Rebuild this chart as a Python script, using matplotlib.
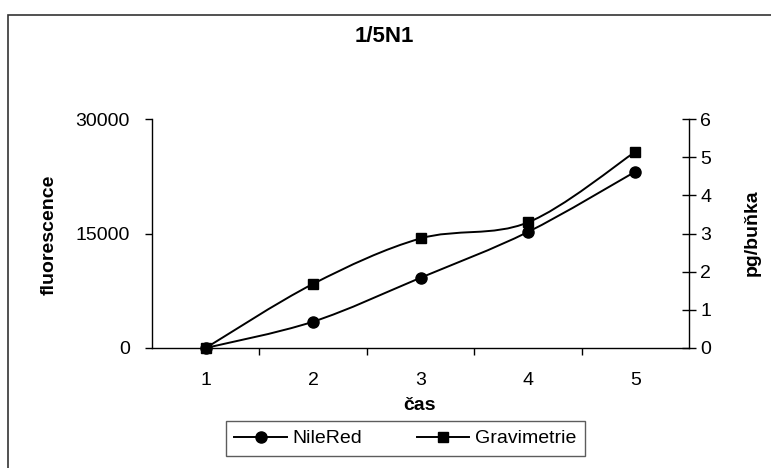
import matplotlib
matplotlib.use("Agg")
import matplotlib.pyplot as plt
import numpy as np
from matplotlib.path import Path
from matplotlib.patches import PathPatch, Rectangle
from matplotlib.lines import Line2D

plt.rcParams['font.family'] = ['Liberation Sans', 'DejaVu Sans']

categories = ["1", "2", "3", "4", "5"]
nilered = [0, 3450, 9200, 15200, 23100]
gravimetrie = [0, 1.68, 2.87, 3.29, 5.14]
left_ticks = [0, 15000, 30000]
right_ticks = [0, 1, 2, 3, 4, 5, 6]

W, H = 771, 468
fig = plt.figure(figsize=(W / 100, H / 100), dpi=100)

# outer chart frame (left & top edges visible)
fig.patches.append(Rectangle((8 / W, -0.1), 1.2, 1 - 15 / H + 0.1, transform=fig.transFigure,
                             fill=False, edgecolor='#333333', linewidth=1.2))

ax = fig.add_axes([152 / W, 1 - 348 / H, (689 - 152) / W, (348 - 119) / H])
ax2 = ax.twinx()

x = np.arange(1, len(categories) + 1)


def smooth_path(xs, ys):
    pts = np.column_stack([xs, ys]).astype(float)
    n = len(pts)
    verts = [pts[0]]
    codes = [Path.MOVETO]
    for i in range(n - 1):
        p0 = pts[max(i - 1, 0)]
        p1 = pts[i]
        p2 = pts[i + 1]
        p3 = pts[min(i + 2, n - 1)]
        c1 = p1 + (p2 - p0) / 6
        c2 = p2 - (p3 - p1) / 6
        verts += [c1, c2, p2]
        codes += [Path.CURVE4] * 3
    return Path(verts, codes)


ax.add_patch(PathPatch(smooth_path(x, nilered), fill=False, edgecolor='black', linewidth=1.4, zorder=3))
ax.plot(x, nilered, linestyle='none', marker='o', markersize=8, color='black', zorder=4, clip_on=False)
ax2.add_patch(PathPatch(smooth_path(x, gravimetrie), fill=False, edgecolor='black', linewidth=1.4, zorder=3))
ax2.plot(x, gravimetrie, linestyle='none', marker='s', markersize=7, color='black', zorder=4, clip_on=False)

ax.set_xlim(0.5, len(categories) + 0.5)
ax.set_ylim(0, 30000)
ax2.set_ylim(0, 6)

for a in (ax, ax2):
    a.spines['top'].set_visible(False)
    for s in ('left', 'right', 'bottom'):
        a.spines[s].set_linewidth(1.0)
ax.spines['right'].set_visible(False)
ax2.spines['left'].set_visible(False)
ax2.spines['bottom'].set_visible(False)

# x ticks: lines at category boundaries, labels at centers
ax.set_xticks(np.arange(1.5, len(categories), 1.0))
ax.set_xticklabels([])
ax.tick_params(axis='x', which='major', direction='out', length=5, width=1.0)
ax.set_xticks(x, minor=True)
ax.set_xticklabels(categories, minor=True)
ax.tick_params(axis='x', which='minor', length=0, pad=17, labelsize=14)

ax.set_yticks(left_ticks)
ax.set_yticklabels([str(v) for v in left_ticks])
ax.tick_params(axis='y', direction='out', length=5, width=1.0, labelsize=14, pad=11)

ax2.set_yticks(right_ticks)
ax2.tick_params(axis='y', direction='inout', length=10, width=1.0, labelsize=14, pad=3)

fig.text(420 / W, 1 - 405 / H, 'čas', ha='center', va='center', fontsize=14, fontweight='bold')
fig.text(49 / W, 1 - 235 / H, 'fluorescence', ha='center', va='center', rotation=90,
         fontsize=14, fontweight='bold')
fig.text(752 / W, 1 - 233 / H, 'pg/buňka', ha='center', va='center', rotation=90,
         fontsize=14, fontweight='bold')
fig.text(384 / W, 1 - 37 / H, '1/5N1', ha='center', va='center', fontsize=16, fontweight='bold')

handles = [
    Line2D([], [], color='black', linewidth=1.4, marker='o', markersize=8),
    Line2D([], [], color='black', linewidth=1.4, marker='s', markersize=7),
]
leg = fig.legend(handles, ['NileRed', 'Gravimetrie'], loc='center', bbox_to_anchor=(405.5 / W, 1 - 438.5 / H),
                 ncol=2, frameon=True, fancybox=False, edgecolor='#333333', fontsize=14,
                 handlelength=2.7, columnspacing=2.8, borderpad=0.45, borderaxespad=0,
                 handletextpad=0.3)
leg.get_frame().set_linewidth(1.0)

fig.savefig('out.png', dpi=100)
